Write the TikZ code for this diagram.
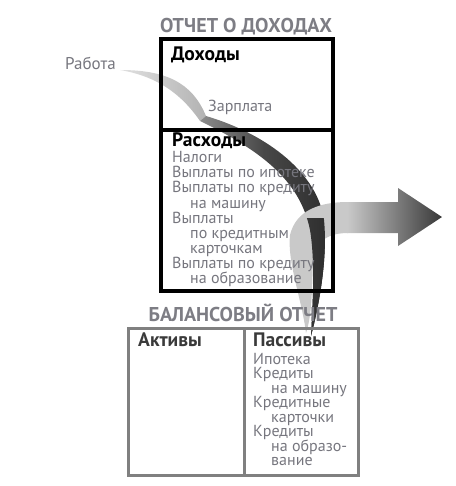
\documentclass[tikz,border=0pt]{standalone}
\usepackage{fontspec}
\setmainfont{PT Sans}
\usepackage{tikz}
\definecolor{titlegray}{RGB}{125, 125, 132}
\definecolor{textgray}{RGB}{118, 118, 126}
\definecolor{boxgray}{RGB}{128, 128, 128}
\definecolor{headdark}{RGB}{58, 58, 58}
\definecolor{arrowlight}{gray}{0.79}

\newcommand{\darkbandpath}{(206, 116) .. controls (270, 135) and (318, 175) .. (324, 220)
    .. controls (328, 260) and (318, 310) .. (311, 336)
    .. controls (313, 300) and (315, 260) .. (310, 230)
    .. controls (300, 180) and (260, 150) .. (200, 121) -- cycle}

\begin{document}
\begin{tikzpicture}[x=1pt, y=-1pt,
    title/.style={font=\bfseries\fontsize{20}{20}\selectfont, text=titlegray, anchor=base, inner sep=0},
    header/.style={font=\bfseries\fontsize{19.5}{19.5}\selectfont, anchor=base west, inner sep=0},
    item/.style={font=\fontsize{16}{16}\selectfont, text=textgray, anchor=base west, inner sep=0},
    darkband/.style={left color=black!45, right color=black!82, middle color=black!72}]

  \useasboundingbox (0, 0) rectangle (455, 486);

  % band from work to salary
  \shade[left color=black!12, right color=black!30]
    (120, 70) .. controls (165, 70) and (192, 82) .. (206, 116)
    -- (200, 121) .. controls (180, 92) and (155, 76) .. (120, 70) -- cycle;

  % dark band into the expenses and liabilities
  \shade[darkband] \darkbandpath;

  % big arrow out of the balance sheet
  \fill[arrowlight]
    (306, 333) .. controls (302, 300) and (287, 262) .. (290, 235)
    .. controls (296, 210) and (320, 202) .. (348, 202)
    -- (348, 233) .. controls (330, 233) and (315, 240) .. (313, 260)
    .. controls (312, 290) and (312, 315) .. (306, 333) -- cycle;
  \shade[left color=arrowlight, right color=black!78]
    (347, 202) -- (398, 202) -- (398, 188) -- (442, 217)
    -- (398, 246) -- (398, 233) -- (347, 233) -- cycle;

  % dark band again in front, below the crossing
  \begin{scope}
    \clip (300, 218) rectangle (345, 340);
    \shade[darkband] \darkbandpath;
  \end{scope}

  % income statement
  \draw[line width=3.5] (161, 39) rectangle (333, 291);
  \draw[line width=3.5] (161, 130) -- (333, 130);

  % balance sheet
  \draw[boxgray, line width=3] (128, 328) rectangle (358, 475);
  \draw[boxgray, line width=3] (244, 328) -- (244, 475);

  \node[title] (income) at (246, 33) {ОТЧЕТ О ДОХОДАХ};
  \node[title] (balance) at (243, 321) {БАЛАНСОВЫЙ ОТЧЕТ};

  \node[header] (revenue) at (171, 61) {Доходы};
  \node[header] (expenses) at (172, 147) {Расходы};
  \node[header, text=headdark] (assets) at (138, 346) {Активы};
  \node[header, text=headdark] (liabilities) at (253, 346) {Пассивы};

  \node[item, font=\fontsize{17}{17}\selectfont] (work) at (65, 70) {Работа};
  \node[item] (salary) at (208, 112) {Зарплата};

  \foreach \txt/\dx [count=\i from 0] in {Налоги/0, Выплаты по ипотеке/0,
      Выплаты по кредиту/0, на машину/18, Выплаты/0, по кредитным/18,
      карточкам/18, Выплаты по кредиту/0, на образование/18} {
    \node[item] (exp\i) at (172+\dx, 163+15*\i) {\txt};
  }

  \foreach \txt/\dx [count=\i from 0] in {Ипотека/0, Кредиты/0, на машину/18,
      Кредитные/0, карточки/18, Кредиты/0, на образо-/18, вание/18} {
    \node[item] (debt\i) at (253+\dx, 364+14.5*\i) {\txt};
  }

\end{tikzpicture}
\end{document}
